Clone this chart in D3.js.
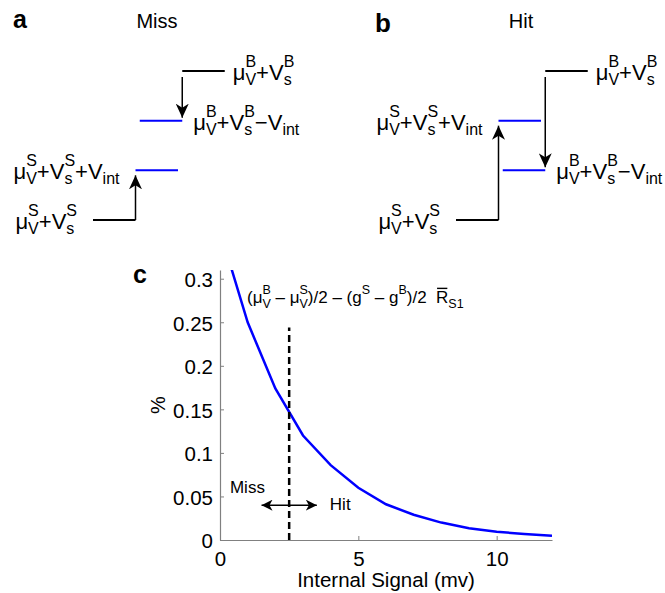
<!DOCTYPE html>
<html>
<head>
<meta charset="utf-8">
<script src="https://cdn.jsdelivr.net/npm/d3@7"></script>
<style>
  body { margin: 0; background: #fff; }
  svg { display: block; }
</style>
</head>
<body>
<div id="chart"></div>
<script>
// panel c: curve values
const signal = [0, 1, 2, 3, 4, 5, 6, 7, 8, 9, 10, 11, 12];
const density = [0.355, 0.25, 0.174, 0.12, 0.086, 0.06, 0.041, 0.029, 0.02, 0.0135, 0.0095, 0.0068, 0.0048];
const xTicks = [0, 5, 10];
const yTicks = [0, 0.05, 0.1, 0.15, 0.2, 0.25, 0.3];
const yTickLabels = ["0", "0.05", "0.1", "0.15", "0.2", "0.25", "0.3"];
const threshold = 2.5;
const thresholdTop = 0.244;
const missHitSpan = [1.5, 3.5];
const missHitLevel = 0.04;

// panels a/b: level order S, S+int, B-int, B
const levelNames = ["S", "S+int", "B-int", "B"];
const missLevels = [0, 1, 2, 3];
const hitLevels = [0, 2, 1, 3];
const levelStart = [0, 1, 1.1, 2.1];
const levelColor = ["#000", "#0000ff", "#0000ff", "#000"];

const font = "'Liberation Sans', Arial, Helvetica, sans-serif";
const width = 665, height = 593;
const sp = "\u00A0";

const svg = d3.select("#chart").append("svg")
    .attr("width", width)
    .attr("height", height)
    .style("font-family", font);

svg.append("rect").attr("width", width).attr("height", height).attr("fill", "#fff");

const defs = svg.append("defs");
function arrowMarker(id, len, half, notch) {
    defs.append("marker")
        .attr("id", id)
        .attr("viewBox", `0 0 ${len} ${half * 2}`)
        .attr("refX", len)
        .attr("refY", half)
        .attr("markerWidth", len)
        .attr("markerHeight", half * 2)
        .attr("markerUnits", "userSpaceOnUse")
        .attr("orient", "auto-start-reverse")
        .append("path")
        .attr("d", `M0,0 L${len},${half} L0,${half * 2} L${notch},${half} Z`)
        .attr("fill", "#000");
}
arrowMarker("headBig", 14, 6.5, 4);
arrowMarker("headSmall", 11, 5.5, 3);

// text with stacked super/subscripts, laid out by measuring
function mathLabel(parent, tokens, x, y, anchor, main, script, supDy, subDy) {
    const grp = parent.append("g");
    let cx = 0;
    tokens.forEach(tk => {
        if (tk.t) {
            const t = grp.append("text")
                .attr("x", cx).attr("y", 0)
                .attr("font-size", main)
                .text(tk.t);
            const w = t.node().getComputedTextLength();
            if (tk.bar) {
                grp.append("line")
                    .attr("x1", cx + 1).attr("x2", cx + w - 1)
                    .attr("y1", -main * 0.86).attr("y2", -main * 0.86)
                    .attr("stroke", "#000").attr("stroke-width", 1.4);
            }
            cx += w;
        }
        let w = 0;
        if (tk.sup) {
            const s = grp.append("text")
                .attr("x", cx).attr("y", supDy)
                .attr("font-size", script)
                .text(tk.sup);
            w = Math.max(w, s.node().getComputedTextLength());
        }
        if (tk.sub) {
            const s = grp.append("text")
                .attr("x", cx).attr("y", subDy)
                .attr("font-size", script)
                .text(tk.sub);
            w = Math.max(w, s.node().getComputedTextLength());
        }
        cx += w;
    });
    const shift = anchor === "end" ? -cx : 0;
    grp.attr("transform", `translate(${x + shift},${y})`);
    return grp;
}

const levelTokens = {
    "S": [{t: "μ", sup: "S", sub: "V"}, {t: "+"}, {t: "V", sup: "S", sub: "s"}],
    "S+int": [{t: "μ", sup: "S", sub: "V"}, {t: "+"}, {t: "V", sup: "S", sub: "s"}, {t: "+"}, {t: "V", sub: "int"}],
    "B-int": [{t: "μ", sup: "B", sub: "V"}, {t: "+"}, {t: "V", sup: "B", sub: "s"}, {t: "−"}, {t: "V", sub: "int"}],
    "B": [{t: "μ", sup: "B", sub: "V"}, {t: "+"}, {t: "V", sup: "B", sub: "s"}]
};
const labelSide = ["end", "end", "start", "start"];
const labelGap = [16, 16, 11, 8];

const diagX = d3.scaleLinear().domain([0, 1]).range([0, 42.5]);
const diagY = d3.scaleLinear().domain([0, 3]).range([220, 71]);

const panels = [
    {letter: "a", title: "Miss", x0: 93, levels: missLevels, lx: 13, ly: 28, lsize: 25, tx: 157},
    {letter: "b", title: "Hit", x0: 456, levels: hitLevels, lx: 375, ly: 32, lsize: 26, tx: 521}
];

panels.forEach(p => {
    const g = svg.append("g").attr("transform", `translate(${p.x0},0)`);

    svg.append("text")
        .attr("x", p.lx).attr("y", p.ly)
        .attr("font-size", p.lsize).attr("font-weight", "bold")
        .text(p.letter);
    svg.append("text")
        .attr("x", p.tx).attr("y", 28)
        .attr("text-anchor", "middle")
        .attr("font-size", 20)
        .text(p.title);

    g.selectAll(".level")
        .data(levelNames)
        .enter().append("line")
        .attr("class", "level")
        .attr("x1", (d, i) => diagX(levelStart[i]))
        .attr("x2", (d, i) => diagX(levelStart[i] + 1))
        .attr("y1", (d, i) => diagY(p.levels[i]))
        .attr("y2", (d, i) => diagY(p.levels[i]))
        .attr("stroke", (d, i) => levelColor[i])
        .attr("stroke-width", 2);

    // S -> S+int (up), B -> B-int (down)
    g.append("line")
        .attr("x1", diagX(levelStart[1])).attr("x2", diagX(levelStart[1]))
        .attr("y1", diagY(p.levels[0]))
        .attr("y2", diagY(p.levels[1]) + 5)
        .attr("stroke", "#000").attr("stroke-width", 1.5)
        .attr("marker-end", "url(#headBig)");
    g.append("line")
        .attr("x1", diagX(levelStart[3])).attr("x2", diagX(levelStart[3]))
        .attr("y1", diagY(p.levels[3]) + 6)
        .attr("y2", diagY(p.levels[2]) - 3)
        .attr("stroke", "#000").attr("stroke-width", 1.5)
        .attr("marker-end", "url(#headBig)");

    levelNames.forEach((name, i) => {
        const lx = labelSide[i] === "end"
            ? diagX(levelStart[i]) - labelGap[i]
            : diagX(levelStart[i] + 1) + labelGap[i];
        mathLabel(g, levelTokens[name], lx, diagY(p.levels[i]) + 9, labelSide[i], 22, 16, -13, 5);
    });
});

// panel c
const x = d3.scaleLinear().domain([0, 12]).range([220, 552]);
const y = d3.scaleLinear().domain([0, 0.31]).range([540, 270]);

svg.append("text")
    .attr("x", 133).attr("y", 283)
    .attr("font-size", 25).attr("font-weight", "bold")
    .text("c");

defs.append("clipPath").attr("id", "plotClip")
    .append("rect")
    .attr("x", x(0)).attr("y", y(0.31))
    .attr("width", x(12) - x(0)).attr("height", y(0) - y(0.31));

const xAxis = svg.append("g")
    .attr("transform", `translate(0,${y(0)})`)
    .call(d3.axisBottom(x).tickValues(xTicks).tickSizeInner(-4).tickSizeOuter(0).tickPadding(11));
const yAxis = svg.append("g")
    .attr("transform", `translate(${x(0)},0)`)
    .call(d3.axisLeft(y).tickValues(yTicks).tickFormat((d, i) => yTickLabels[i])
        .tickSizeInner(-4).tickSizeOuter(0).tickPadding(7));

[xAxis, yAxis].forEach(a => {
    a.attr("font-family", font).attr("font-size", 20.5);
    a.select(".domain").attr("stroke", "#808080").attr("stroke-width", 1.2);
    a.selectAll(".tick line").attr("stroke", "#808080");
    a.selectAll(".tick text").attr("fill", "#000");
});
yAxis.selectAll(".tick text").attr("dy", "0.38em");

svg.append("text")
    .attr("x", (x(0) + x(12)) / 2).attr("y", 587)
    .attr("text-anchor", "middle")
    .attr("font-size", 20.5)
    .text("Internal Signal (mv)");

svg.append("text")
    .attr("transform", `translate(165,${(y(0) + y(0.31)) / 2}) rotate(-90)`)
    .attr("text-anchor", "middle")
    .attr("font-size", 20)
    .text("%");

svg.append("path")
    .datum(signal.map((s, i) => [s, density[i]]))
    .attr("clip-path", "url(#plotClip)")
    .attr("fill", "none")
    .attr("stroke", "#0000ff")
    .attr("stroke-width", 2.5)
    .attr("d", d3.line().x(d => x(d[0])).y(d => y(d[1])));

svg.append("line")
    .attr("x1", x(threshold)).attr("x2", x(threshold))
    .attr("y1", y(0)).attr("y2", y(thresholdTop))
    .attr("stroke", "#000")
    .attr("stroke-width", 2.5)
    .attr("stroke-dasharray", "7,4");

svg.append("line")
    .attr("x1", x(missHitSpan[0])).attr("x2", x(missHitSpan[1]))
    .attr("y1", y(missHitLevel)).attr("y2", y(missHitLevel))
    .attr("stroke", "#000").attr("stroke-width", 1.5)
    .attr("marker-start", "url(#headSmall)")
    .attr("marker-end", "url(#headSmall)");

svg.append("text")
    .attr("x", x(0.36)).attr("y", y(0.054))
    .attr("font-size", 17)
    .text("Miss");
svg.append("text")
    .attr("x", x(3.97)).attr("y", y(0.035))
    .attr("font-size", 17)
    .text("Hit");

mathLabel(svg, [
    {t: "(μ", sup: "B", sub: "V"},
    {t: sp + "–" + sp + "μ", sup: "S", sub: "V"},
    {t: ")/2" + sp + "–" + sp + "(g", sup: "S"},
    {t: sp + "–" + sp + "g", sup: "B"},
    {t: ")/2" + sp + sp},
    {t: "R", sub: "S1", bar: true}
], 247, 303, "start", 17, 12.5, -9, 5);
</script>
</body>
</html>
